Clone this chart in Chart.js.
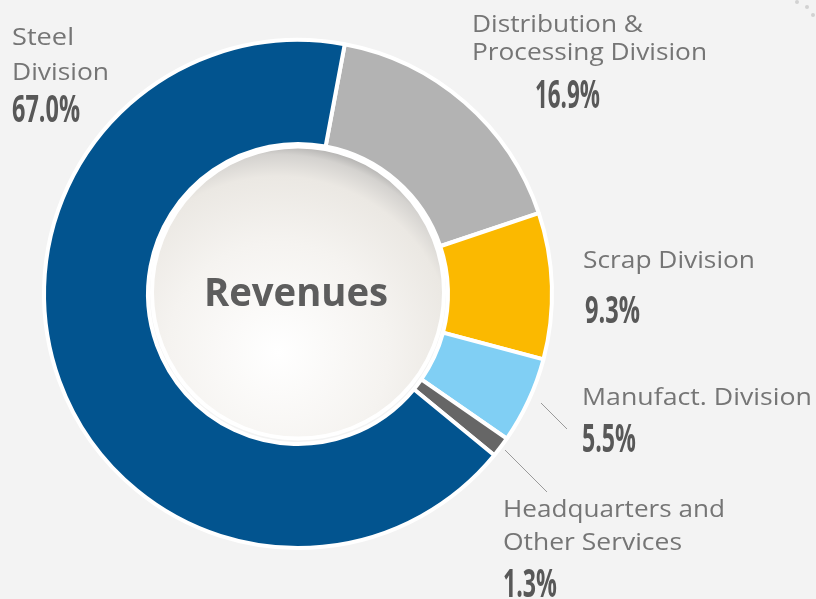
<!DOCTYPE html>
<html>
<head>
<meta charset="utf-8">
<script src="https://cdn.jsdelivr.net/npm/chart.js@4.4.1/dist/chart.umd.min.js"></script>
<style>
  html, body { margin: 0; padding: 0; background: #f3f3f3; }
  #wrap { width: 816px; height: 599px; position: relative; }
</style>
</head>
<body>
<div id="wrap"><canvas id="revenues"></canvas></div>
<script>
// segments, clockwise from the top
const divisions = ["Distribution & Processing Division", "Scrap Division", "Manufact. Division", "Headquarters and Other Services", "Steel Division"];
const shares = [16.9, 9.3, 5.5, 1.3, 67.0];
const colors = ["#b3b3b3", "#fbb900", "#80cff4", "#666666", "#02548f"];
const centerTitle = "Revenues";

// where each label goes: text lines, x, baselines, widths (layout only)
const labelLayout = [
  { lines: ["Distribution &", "Processing Division"], x: 472, base: [32, 60], w: [171, 235], pct: { x: 535, base: 108, w: 65, h: 29 } },
  { lines: ["Scrap Division"], x: 583, base: [268], w: [172], pct: { x: 585, base: 323, w: 55, h: 28 } },
  { lines: ["Manufact. Division"], x: 582, base: [405], w: [230], pct: { x: 582, base: 452, w: 54, h: 29 }, leader: [541, 403, 567, 429] },
  { lines: ["Headquarters and", "Other Services"], x: 503, base: [517, 550], w: [222, 179], pct: { x: 503, base: 597, w: 54, h: 29 }, leader: [505, 450, 547, 492] },
  { lines: ["Steel", "Division"], x: 12, base: [45, 80], w: [62, 97], pct: { x: 12, base: 122, w: 68, h: 27 } },
];

function fitText(ctx, text, x, base, width, font) {
  ctx.save();
  ctx.font = font;
  const m = ctx.measureText(text).width;
  ctx.translate(x, base);
  ctx.scale(width / m, 1);
  ctx.fillText(text, 0, 0);
  ctx.restore();
}

const sphere = {
  id: "sphere",
  afterDatasetsDraw(chart) {
    const ctx = chart.ctx;
    const arc = chart.getDatasetMeta(0).data[0];
    const cx = arc.x, cy = arc.y - 1.5;
    const r = 146;
    ctx.save();
    const g = ctx.createRadialGradient(cx - 20, cy + 60, 0, cx - 20, cy + 60, 220);
    g.addColorStop(0, "#ffffff");
    g.addColorStop(0.5, "#f5f3f0");
    g.addColorStop(0.8, "#ebe8e3");
    g.addColorStop(0.9, "#d4d2cf");
    g.addColorStop(1, "#8f8f8f");
    ctx.beginPath();
    ctx.arc(cx, cy, r, 0, Math.PI * 2);
    ctx.fillStyle = g;
    ctx.fill();
    ctx.lineWidth = 4;
    ctx.strokeStyle = "#ffffff";
    ctx.stroke();

    ctx.fillStyle = "#5d5d5d";
    fitText(ctx, centerTitle, cx - 94, 306, 184, "bold 40px 'Open Sans'");
    ctx.restore();
  },
};

const outsideLabels = {
  id: "outsideLabels",
  afterDraw(chart) {
    const ctx = chart.ctx;
    ctx.save();
    labelLayout.forEach((l, i) => {
      if (l.leader) {
        ctx.strokeStyle = "#9a9a9a";
        ctx.lineWidth = 1;
        ctx.beginPath();
        ctx.moveTo(l.leader[0], l.leader[1]);
        ctx.lineTo(l.leader[2], l.leader[3]);
        ctx.stroke();
      }
      ctx.fillStyle = "#757575";
      l.lines.forEach((t, j) => {
        fitText(ctx, t, l.x, l.base[j], l.w[j], "24px 'Open Sans'");
      });
      ctx.fillStyle = "#585858";
      const size = Math.round(l.pct.h / 0.73);
      fitText(ctx, shares[i].toFixed(1) + "%", l.pct.x, l.pct.base, l.pct.w, "bold " + size + "px 'Open Sans'");
    });
    // bit of the dotted ring in the corner
    ctx.fillStyle = "#d2d2d2";
    [[797, 2], [807, 7], [813, 15]].forEach((p) => {
      ctx.beginPath();
      ctx.arc(p[0], p[1], 2, 0, Math.PI * 2);
      ctx.fill();
    });
    ctx.restore();
  },
};

new Chart(document.getElementById("revenues"), {
  type: "doughnut",
  data: {
    labels: divisions,
    datasets: [
      {
        data: shares,
        backgroundColor: colors,
        borderColor: "#ffffff",
        borderWidth: 4,
        hoverOffset: 0,
      },
    ],
  },
  options: {
    responsive: true,
    maintainAspectRatio: false,
    animation: false,
    rotation: 10.6,
    cutout: 150,
    layout: {
      padding: { left: 42, right: 262, top: 38, bottom: 49 },
    },
    plugins: {
      legend: { display: false },
      tooltip: { enabled: false },
    },
  },
  plugins: [sphere, outsideLabels],
});
</script>
</body>
</html>
